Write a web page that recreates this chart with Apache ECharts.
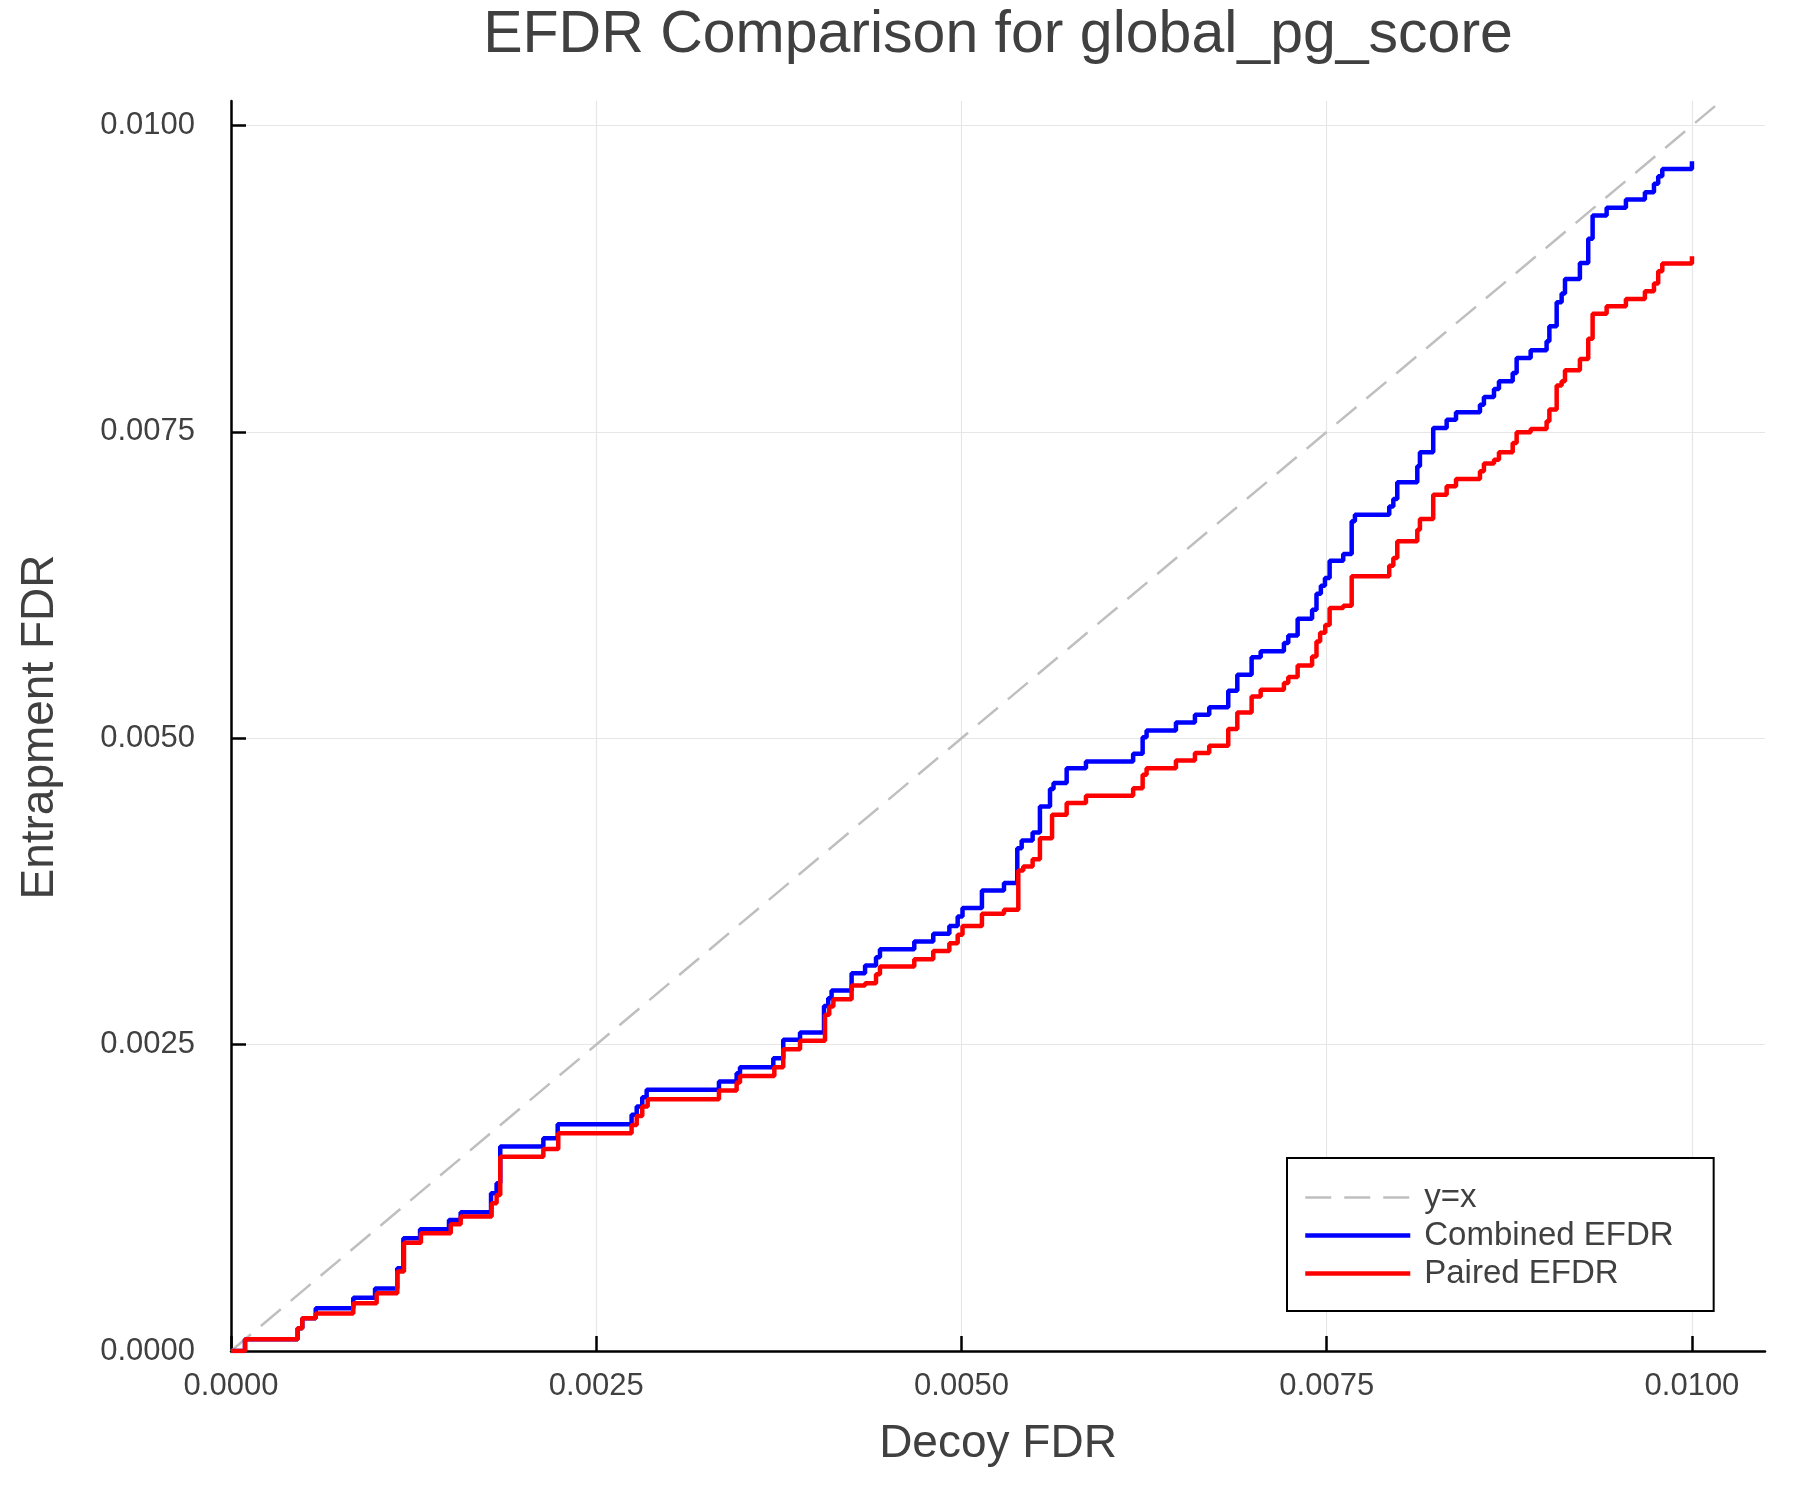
<!DOCTYPE html>
<html>
<head>
<meta charset="utf-8">
<script src="https://cdn.jsdelivr.net/npm/echarts@6/dist/echarts.min.js"></script>
<style>html,body{margin:0;padding:0;background:#fff}#chart{width:1800px;height:1500px}</style>
</head>
<body>
<div id="chart"></div>
<script>
// ---- data (x and y values are in units of 1e-4) ----
const UNIT = 1e-4;
const xTicks = [0, 0.0025, 0.005, 0.0075, 0.01];
const yTicks = [0, 0.0025, 0.005, 0.0075, 0.01];
const identityX = [0, 0.0102];
const identityY = [0, 0.0102];

const combinedX = [0, 0.96, 4.56, 4.88, 5.80, 8.37, 9.86, 11.38, 11.8, 12.94, 14.92, 15.72, 17.8, 18.18, 18.43, 21.38, 22.36,
  27.42, 27.77, 28.15, 28.45, 33.4, 34.61, 34.84, 37.12, 37.8, 38.95, 40.59, 40.88, 41.11, 42.48, 43.4, 44.15, 44.42,
  46.77, 48.07, 49.17, 49.74, 50.07, 51.4, 52.91, 53.82, 54.12, 54.87, 55.37, 56.06, 56.3, 57.2, 58.52, 61.75, 62.4,
  62.67, 64.68, 65.98, 66.96, 68.26, 68.88, 69.86, 70.48, 72.07, 72.37, 73.01, 74.0, 74.3, 74.6, 74.88, 75.2, 76.13,
  76.71, 76.93, 79.28, 79.56, 79.83, 81.2, 81.38, 82.29, 83.21, 83.85, 85.49, 85.76, 86.45, 86.79, 87.73, 88.0, 88.96,
  90.05, 90.24, 90.74, 91.08, 91.31, 92.33, 92.9, 93.2, 94.16, 95.48, 96.78, 97.4, 97.69, 97.97, 100.0];
const combinedY = [0, 0.95, 1.85, 2.67, 3.48, 4.35, 5.09, 6.75, 9.2, 9.93, 10.69, 11.32, 12.87, 13.69, 16.68, 17.36, 18.5,
  19.27, 19.95, 20.71, 21.31, 21.99, 22.67, 23.16, 23.89, 25.39, 25.99, 28.16, 28.79, 29.41, 30.83, 31.46, 32.14, 32.79,
  33.41, 34.04, 34.69, 35.46, 36.14, 37.58, 38.18, 41.03, 41.66, 42.31, 44.44, 45.85, 46.34, 47.56, 48.11, 48.73, 50.09,
  50.64, 51.29, 51.92, 52.54, 53.88, 55.18, 56.6, 57.09, 57.77, 58.39, 59.76, 60.49, 61.8, 62.45, 63.07, 64.49, 65.03,
  67.7, 68.24, 68.92, 69.52, 70.88, 72.19, 73.33, 75.32, 76.0, 76.6, 77.22, 77.85, 78.5, 79.13, 79.81, 81.03, 81.66,
  82.39, 83.62, 85.58, 86.29, 87.48, 88.79, 90.75, 92.65, 93.28, 93.96, 94.56, 95.24, 95.86, 96.46, 97.09];

const pairedX = [0, 0.96, 4.56, 4.88, 5.80, 8.37, 9.97, 11.38, 11.84, 13.0, 15.04, 15.72, 17.84, 18.18, 18.43, 21.38, 22.4,
  27.42, 27.77, 28.15, 28.52, 33.4, 34.61, 34.84, 37.19, 37.8, 38.95, 40.66, 40.95, 41.23, 42.48, 43.4, 44.15, 44.42,
  46.77, 48.07, 49.17, 49.74, 50.07, 51.4, 52.91, 53.89, 54.23, 54.87, 55.37, 56.2, 57.2, 58.52, 61.75, 62.4, 62.67,
  64.68, 65.98, 66.96, 68.26, 68.88, 69.86, 70.48, 72.07, 72.37, 73.01, 74.0, 74.3, 74.55, 74.9, 75.2, 76.13, 76.71,
  79.28, 79.56, 79.83, 81.2, 81.38, 82.29, 83.21, 83.85, 85.49, 85.76, 86.45, 86.79, 87.73, 88.0, 88.96, 90.05, 90.24,
  90.74, 91.08, 91.31, 92.33, 92.9, 93.2, 94.16, 95.48, 96.78, 97.4, 97.69, 97.97, 100.0];
const pairedY = [0, 0.95, 1.85, 2.67, 3.07, 3.89, 4.71, 6.48, 8.84, 9.6, 10.34, 10.97, 12.05, 12.73, 15.86, 16.49, 17.77,
  18.45, 19.18, 19.95, 20.54, 21.25, 21.9, 22.45, 23.16, 24.63, 25.31, 27.43, 28.11, 28.71, 29.82, 30.01, 30.75, 31.37,
  31.97, 32.65, 33.28, 33.96, 34.69, 35.67, 36.0, 39.2, 39.54, 40.13, 41.85, 43.76, 44.71, 45.31, 45.93, 47.02, 47.56,
  48.19, 48.79, 49.39, 50.75, 52.11, 53.41, 53.96, 54.5, 54.99, 55.94, 56.68, 57.9, 58.6, 59.24, 60.63, 60.82, 63.21,
  64.08, 64.71, 66.07, 67.02, 67.89, 69.88, 70.56, 71.16, 71.78, 72.41, 72.73, 73.33, 74.1, 74.97, 75.24, 75.86, 76.82,
  78.78, 79.13, 80.03, 80.95, 82.59, 84.63, 85.25, 85.85, 86.47, 87.1, 88.1, 88.73, 89.33];

const titleText = 'EFDR Comparison for global_pg_score';
const xName = 'Decoy FDR';
const yName = 'Entrapment FDR';
const seriesNames = ['y=x', 'Combined EFDR', 'Paired EFDR'];

// ---- build ----
const pair = (xs, ys, s) => xs.map((x, i) => [x * s, ys[i] * s]);
const FONT = "'Liberation Sans', Arial, Helvetica, sans-serif";
const TXT = '#404040';
const styles = {
  'y=x': {color: '#bfbfbf', width: 2.5, type: [26, 13]},
  'Combined EFDR': {color: '#0000ff', width: 4.5, type: 'solid'},
  'Paired EFDR': {color: '#ff0000', width: 4.5, type: 'solid'}
};

const chart = echarts.init(document.getElementById('chart'), null, {renderer: 'canvas'});
const axisCommon = (ticks) => ({
  type: 'value',
  min: 0,
  axisLine: {show: true, onZero: false, lineStyle: {color: '#000', width: 2.5}},
  axisTick: {show: true, inside: true, length: 15, lineStyle: {color: '#000', width: 2.5}, customValues: ticks},
  axisLabel: {customValues: ticks, fontSize: 31, color: TXT, fontFamily: FONT, formatter: v => v.toFixed(4)},
  splitLine: {show: true, lineStyle: {color: '#e6e6e6', width: 1.2}}
});
const xa = axisCommon(xTicks); xa.max = 0.0105; xa.axisLabel.margin = 20;
const ya = axisCommon(yTicks); ya.max = 0.0102; ya.axisLabel.margin = 36;

chart.setOption({
  animation: false,
  backgroundColor: '#fff',
  grid: {left: 231, right: 35, top: 101, bottom: 149, containLabel: false},
  xAxis: xa,
  yAxis: ya,
  legend: {
    orient: 'vertical', left: 1287, top: 1158,
    padding: [23, 40, 21, 16], itemGap: 5, itemWidth: 105, itemHeight: 14,
    borderColor: '#000', borderWidth: 2, backgroundColor: '#fff',
    selectedMode: false,
    itemStyle: {opacity: 0, borderWidth: 0},
    textStyle: {fontSize: 33, color: TXT, fontFamily: FONT, lineHeight: 33, padding: [0, 0, 0, 9]},
    data: seriesNames.map(n => ({
      name: n,
      itemStyle: {opacity: 0, borderWidth: 0},
      lineStyle: {color: styles[n].color, width: styles[n].width, type: styles[n].type}
    }))
  },
  graphic: [
    {type: 'text', x: 998, y: 36, silent: true,
     style: {text: titleText, font: '59px ' + FONT, fill: TXT, textAlign: 'center', textVerticalAlign: 'middle'}},
    {type: 'text', x: 998, y: 1444, silent: true,
     style: {text: xName, font: '46px ' + FONT, fill: TXT, textAlign: 'center', textVerticalAlign: 'middle'}},
    {type: 'text', x: 40, y: 727, rotation: Math.PI / 2, silent: true,
     style: {text: yName, font: '46px ' + FONT, fill: TXT, textAlign: 'center', textVerticalAlign: 'middle'}}
  ],
  series: [
    {name: seriesNames[0], type: 'line', data: pair(identityX, identityY, 1), symbol: 'none', silent: true,
     lineStyle: styles['y=x'], itemStyle: {color: '#bfbfbf'}, z: 1},
    {name: seriesNames[1], type: 'line', step: 'end', data: pair(combinedX, combinedY, UNIT), symbol: 'none', silent: true,
     lineStyle: styles['Combined EFDR'], itemStyle: {color: '#0000ff'}, z: 2},
    {name: seriesNames[2], type: 'line', step: 'end', data: pair(pairedX, pairedY, UNIT), symbol: 'none', silent: true,
     lineStyle: styles['Paired EFDR'], itemStyle: {color: '#ff0000'}, z: 3}
  ]
});
</script>
</body>
</html>
